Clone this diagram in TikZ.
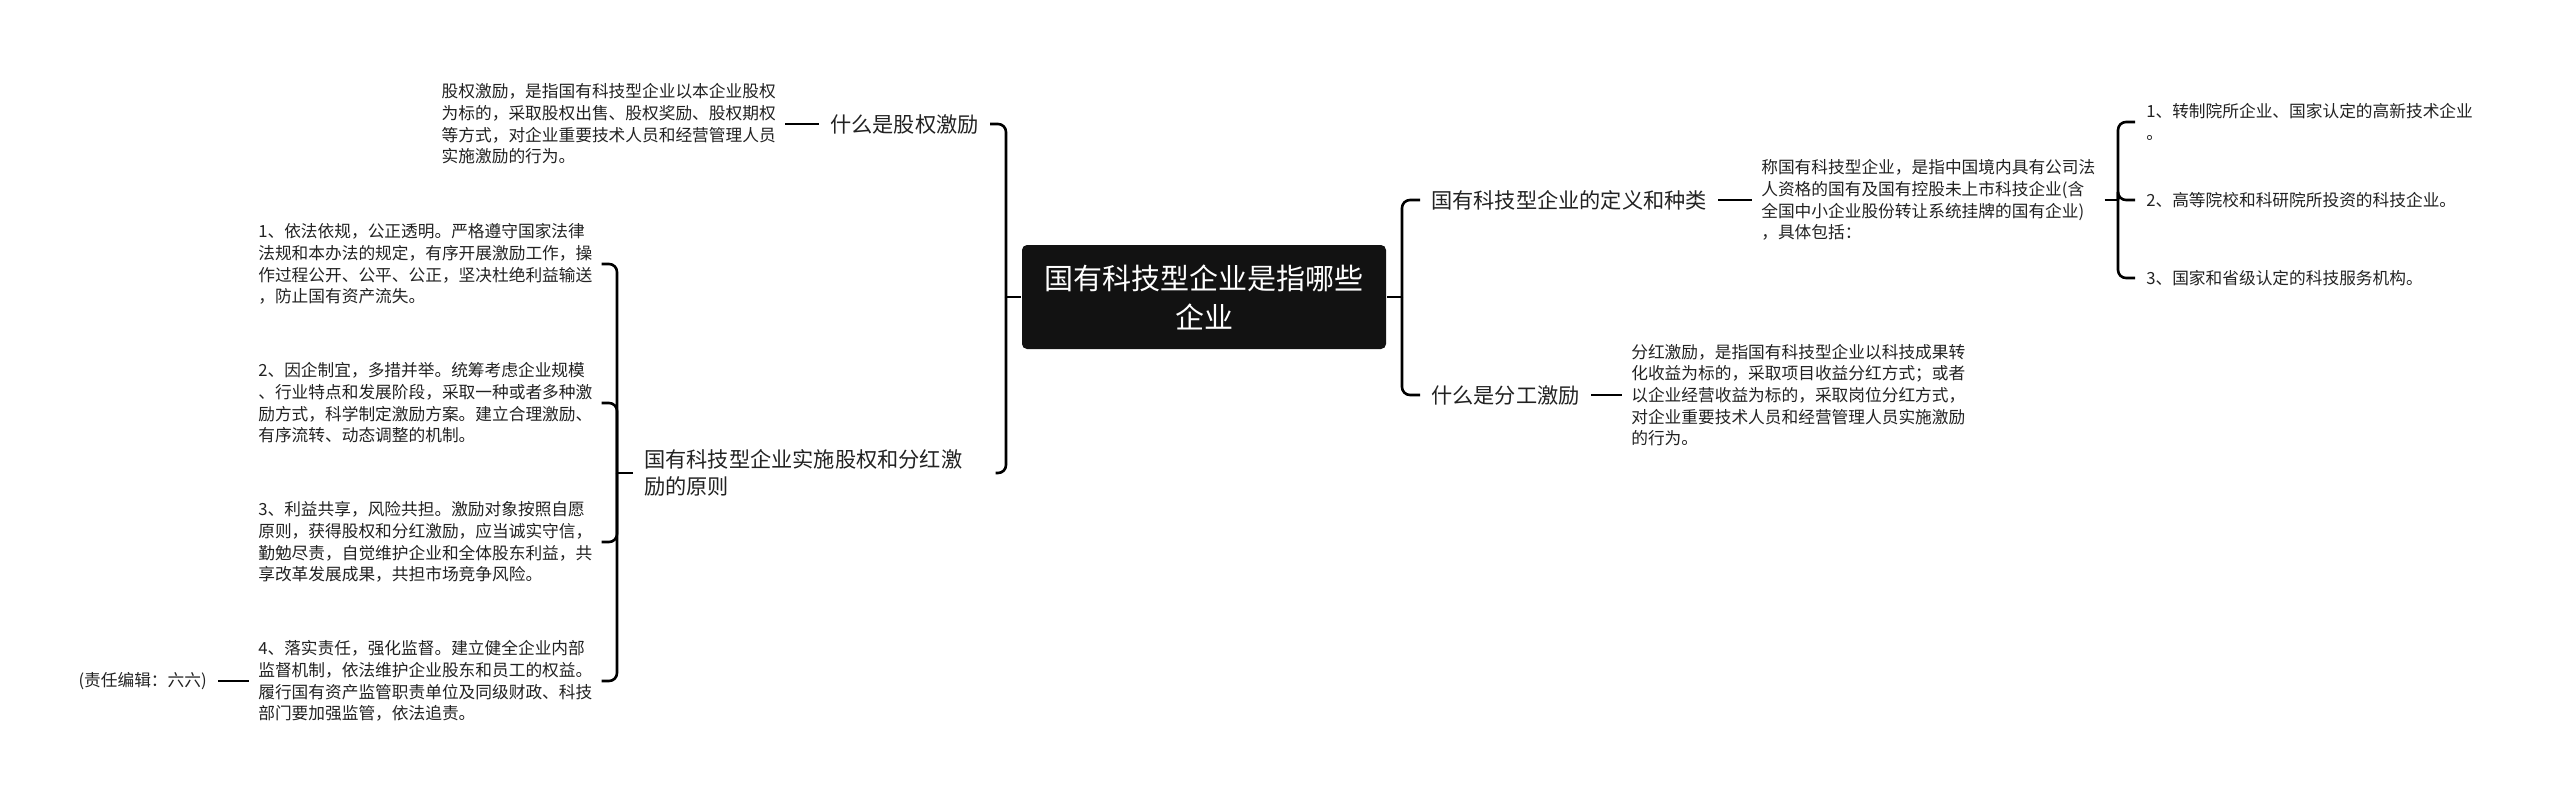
\documentclass[tikz,border=0pt]{standalone}
\usepackage{tikz}
\usepackage{fontspec}
\setmainfont{Noto Sans CJK SC}
\newcommand\txtsize{\fontsize{16.7}{21.7}\selectfont}
\newcommand\topsize{\fontsize{21.2}{27}\selectfont}
\newcommand\rootsize{\fontsize{29}{39}\selectfont}
\definecolor{ink}{HTML}{222222}
\begin{document}
\begin{tikzpicture}[x=1pt,y=-1pt,line width=2.6pt,
  txt/.style={font=\txtsize, align=left, inner xsep=8pt, text=ink},
  topic/.style={font=\topsize, align=left, inner xsep=10pt, text=ink},
  root/.style={font=\rootsize, align=center, text=white, fill=black!93, rounded corners=5pt, minimum width=364pt, minimum height=104pt},
  link/.style={rounded corners=8pt}]
\useasboundingbox (0,0) rectangle (2560,804);

\node(Root)[root] at (1204,297) {国有科技型企业是指哪些\\企业};

\node(Q1)[topic, anchor=east] at (990,124) {什么是股权激励};
\node(D1)[txt, anchor=east] at (785,124) {股权激励，是指国有科技型企业以本企业股权\\为标的，采取股权出售、股权奖励、股权期权\\等方式，对企业重要技术人员和经营管理人员\\实施激励的行为。};
\node(Q2)[topic, anchor=west, text width=340pt] at (633,473) {国有科技型企业实施股权和分红激\\励的原则};

\node(P1)[txt, anchor=west] at (249,264) {1、依法依规，公正透明。严格遵守国家法律\\法规和本办法的规定，有序开展激励工作，操\\作过程公开、公平、公正，坚决杜绝利益输送\\，防止国有资产流失。};
\node(P2)[txt, anchor=west] at (249,403) {2、因企制宜，多措并举。统筹考虑企业规模\\、行业特点和发展阶段，采取一种或者多种激\\励方式，科学制定激励方案。建立合理激励、\\有序流转、动态调整的机制。};
\node(P3)[txt, anchor=west] at (249,542) {3、利益共享，风险共担。激励对象按照自愿\\原则，获得股权和分红激励，应当诚实守信，\\勤勉尽责，自觉维护企业和全体股东利益，共\\享改革发展成果，共担市场竞争风险。};
\node(P4)[txt, anchor=west] at (249,681) {4、落实责任，强化监督。建立健全企业内部\\监督机制，依法维护企业股东和员工的权益。\\履行国有资产监管职责单位及同级财政、科技\\部门要加强监管，依法追责。};
\node(Note)[txt, anchor=east, inner xsep=10pt] at (218,681) {(责任编辑：六六)};

\node(Q3)[topic, anchor=west] at (1420,200) {国有科技型企业的定义和种类};
\node(D3)[txt, anchor=west] at (1752,200) {称国有科技型企业，是指中国境内具有公司法\\人资格的国有及国有控股未上市科技企业(含\\全国中小企业股份转让系统挂牌的国有企业)\\，具体包括：};
\node(R1)[txt, anchor=west, inner xsep=10pt] at (2135,122) {1、转制院所企业、国家认定的高新技术企业\\。};
\node(R2)[txt, anchor=west, inner xsep=10pt] at (2135,200) {2、高等院校和科研院所投资的科技企业。};
\node(R3)[txt, anchor=west, inner xsep=10pt] at (2135,278) {3、国家和省级认定的科技服务机构。};

\node(Q4)[topic, anchor=west] at (1420,395) {什么是分工激励};
\node(D4)[txt, anchor=west] at (1622,395) {分红激励，是指国有科技型企业以科技成果转\\化收益为标的，采取项目收益分红方式；或者\\以企业经营收益为标的，采取岗位分红方式，\\对企业重要技术人员和经营管理人员实施激励\\的行为。};

\coordinate(LB) at (1006,297);
\coordinate(RB) at (1402,297);
\coordinate(PB) at (617,473);
\coordinate(TB) at (2118,200);

\draw (Root.west) -- (LB);
\draw[link] (LB) |- (Q1.east);
\draw[link] (LB) |- (Q2.east);
\draw (D1.east) -- (Q1.west);

\draw (Q2.west) -- (PB);
\foreach \p in {P1,P2,P3,P4}
  \draw[link] (PB) |- (\p.east);
\draw (Note.east) -- (P4.west);

\draw (Root.east) -- (RB);
\draw[link] (RB) |- (Q3.west);
\draw[link] (RB) |- (Q4.west);
\draw (Q3.east) -- (D3.west);
\draw (Q4.east) -- (D4.west);

\draw (D3.east) -- (TB);
\foreach \r in {R1,R2,R3}
  \draw[link] (TB) |- (\r.west);
\end{tikzpicture}
\end{document}
